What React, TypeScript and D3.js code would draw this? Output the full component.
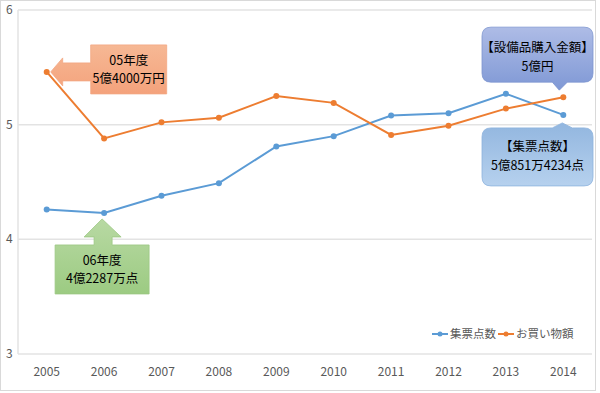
import React from 'react';
import * as d3 from 'd3';

const years = ['2005', '2006', '2007', '2008', '2009', '2010', '2011', '2012', '2013', '2014'];
const ticketPoints = [4.26, 4.23, 4.38, 4.49, 4.81, 4.9, 5.08, 5.1, 5.27, 5.085];
const shoppingAmount = [5.46, 4.88, 5.02, 5.06, 5.25, 5.19, 4.91, 4.99, 5.14, 5.24];
const yTicks = [3, 4, 5, 6];
const seriesNames = ['集票点数', 'お買い物額'];
const seriesColors = ['#5b9bd5', '#ed7d31'];

const W = 600;
const H = 393;
const margin = { left: 18, right: 8, top: 10, bottom: 39 };
const FONT = '"Noto Sans CJK JP", "Noto Sans", sans-serif';

export default function App() {
  const x = d3
    .scaleBand()
    .domain(years)
    .range([margin.left, W - margin.right])
    .padding(0);
  const y = d3.scaleLinear().domain([3, 6]).range([H - margin.bottom, margin.top]);
  const cx = (yr: string) => (x(yr) as number) + x.bandwidth() / 2;

  const line = d3
    .line<number>()
    .x((_, i) => cx(years[i]))
    .y(d => y(d));

  const series = [ticketPoints, shoppingAmount];

  // callout anchors from the data points
  const a1x = cx('2005') + 4, a1y = y(shoppingAmount[0]);
  const a2x = cx('2006') - 2, a2y = y(ticketPoints[1]) + 6;
  const a3x = cx('2014') - 4, a3y = y(shoppingAmount[9]) - 7;
  const a4x = cx('2014') - 1, a4y = y(ticketPoints[9]) + 8;

  // left arrow callout
  const c1 = `M${a1x},${a1y} L${a1x + 12},${a1y - 14} L${a1x + 12},${a1y - 9} L${a1x + 40},${a1y - 9} L${a1x + 40},${a1y - 27}
    L${a1x + 116},${a1y - 27} L${a1x + 116},${a1y + 22} L${a1x + 40},${a1y + 22} L${a1x + 40},${a1y + 9}
    L${a1x + 12},${a1y + 9} L${a1x + 12},${a1y + 14} Z`;
  // up arrow callout
  const c2 = `M${a2x},${a2y} L${a2x + 19},${a2y + 18} L${a2x + 10},${a2y + 18} L${a2x + 10},${a2y + 26} L${a2x + 47},${a2y + 26}
    L${a2x + 47},${a2y + 75} L${a2x - 47},${a2y + 75} L${a2x - 47},${a2y + 26} L${a2x - 8},${a2y + 26}
    L${a2x - 8},${a2y + 18} L${a2x - 18},${a2y + 18} Z`;
  // rounded rect with wedge down
  const r = 9;
  const b3 = { x0: 482, x1: 593, y0: a3y - 63, y1: a3y - 8 };
  const c3 = `M${b3.x0 + r},${b3.y0} L${b3.x1 - r},${b3.y0} Q${b3.x1},${b3.y0} ${b3.x1},${b3.y0 + r}
    L${b3.x1},${b3.y1 - r} Q${b3.x1},${b3.y1} ${b3.x1 - r},${b3.y1} L${a3x + 8},${b3.y1} L${a3x},${a3y}
    L${a3x - 7},${b3.y1} L${b3.x0 + r},${b3.y1} Q${b3.x0},${b3.y1} ${b3.x0},${b3.y1 - r}
    L${b3.x0},${b3.y0 + r} Q${b3.x0},${b3.y0} ${b3.x0 + r},${b3.y0} Z`;
  // rounded rect with wedge up
  const b4 = { x0: 482, x1: 593, y0: a4y + 5, y1: a4y + 63 };
  const c4 = `M${b4.x0 + r},${b4.y0} L${a4x - 10},${b4.y0} L${a4x},${a4y} L${a4x + 10},${b4.y0}
    L${b4.x1 - r},${b4.y0} Q${b4.x1},${b4.y0} ${b4.x1},${b4.y0 + r}
    L${b4.x1},${b4.y1 - r} Q${b4.x1},${b4.y1} ${b4.x1 - r},${b4.y1}
    L${b4.x0 + r},${b4.y1} Q${b4.x0},${b4.y1} ${b4.x0},${b4.y1 - r}
    L${b4.x0},${b4.y0 + r} Q${b4.x0},${b4.y0} ${b4.x0 + r},${b4.y0} Z`;

  const txt = { fontFamily: FONT, fontSize: 12.5, fill: '#000', textAnchor: 'middle' as const };

  return (
    <svg width={W} height={H} style={{ position: 'absolute', left: 0, top: 0 }}>
      <defs>
        <linearGradient id="g1" x1="0" y1="0" x2="0" y2="1">
          <stop offset="0" stopColor="#f6b894" />
          <stop offset="1" stopColor="#f4a27c" />
        </linearGradient>
        <linearGradient id="g2" x1="0" y1="0" x2="0" y2="1">
          <stop offset="0" stopColor="#b8d9a3" />
          <stop offset="1" stopColor="#9ccb82" />
        </linearGradient>
        <linearGradient id="g3" x1="0" y1="0" x2="0" y2="1">
          <stop offset="0" stopColor="#aebce6" />
          <stop offset="1" stopColor="#7f98d5" />
        </linearGradient>
        <linearGradient id="g4" x1="0" y1="0" x2="0" y2="1">
          <stop offset="0" stopColor="#92b6df" />
          <stop offset="1" stopColor="#b6d1ee" />
        </linearGradient>
      </defs>
      <rect x={0.5} y={0.5} width={W - 5} height={H - 3} fill="#fff" stroke="#d9d9d9" />

      {yTicks.map(t => (
        <g key={t}>
          <line x1={margin.left} x2={W - margin.right} y1={y(t)} y2={y(t)} stroke="#e3e3e3" strokeWidth={1.5} />
          <text x={6} y={y(t) + 4} fontFamily={FONT} fontSize={12} fill="#595959">
            {t}
          </text>
        </g>
      ))}
      <line x1={margin.left} x2={margin.left} y1={y(6)} y2={y(3)} stroke="#e3e3e3" strokeWidth={1.5} />

      {years.map(yr => (
        <text key={yr} x={cx(yr)} y={H - margin.bottom + 22} textAnchor="middle" fontFamily={FONT} fontSize={12} fill="#595959">
          {yr}
        </text>
      ))}

      {series.map((s, k) => (
        <g key={k}>
          <path d={line(s) as string} fill="none" stroke={seriesColors[k]} strokeWidth={2} />
          {s.map((v, i) => (
            <circle key={i} cx={cx(years[i])} cy={y(v)} r={3} fill={seriesColors[k]} />
          ))}
        </g>
      ))}

      {/* legend */}
      {seriesNames.map((n, k) => {
        const lx = k === 0 ? 432 : 498;
        const ly = 334;
        return (
          <g key={n}>
            <line x1={lx} x2={lx + 16} y1={ly} y2={ly} stroke={seriesColors[k]} strokeWidth={2} />
            <circle cx={lx + 8} cy={ly} r={2.5} fill={seriesColors[k]} />
            <text x={lx + 18} y={ly + 4} fontFamily={FONT} fontSize={11.5} fill="#595959">
              {n}
            </text>
          </g>
        );
      })}

      {/* callouts */}
      <path d={c1} fill="url(#g1)" stroke="#f3a783" strokeWidth={0.8} />
      <text {...txt} x={a1x + 78} y={a1y - 7}>05年度</text>
      <text {...txt} x={a1x + 78} y={a1y + 11}>5億4000万円</text>

      <path d={c2} fill="url(#g2)" stroke="#9cc883" strokeWidth={0.8} />
      <text {...txt} x={a2x} y={a2y + 46}>06年度</text>
      <text {...txt} x={a2x} y={a2y + 64}>4億2287万点</text>

      <path d={c3} fill="url(#g3)" stroke="#7d95cf" strokeWidth={0.8} />
      <text {...txt} x={(b3.x0 + b3.x1) / 2} y={b3.y0 + 25}>【設備品購入金額】</text>
      <text {...txt} x={(b3.x0 + b3.x1) / 2} y={b3.y0 + 44}>5億円</text>

      <path d={c4} fill="url(#g4)" stroke="#8db3dd" strokeWidth={0.8} />
      <text {...txt} x={(b4.x0 + b4.x1) / 2} y={b4.y0 + 23}>【集票点数】</text>
      <text {...txt} x={(b4.x0 + b4.x1) / 2} y={b4.y0 + 42}>5億851万4234点</text>
    </svg>
  );
}
